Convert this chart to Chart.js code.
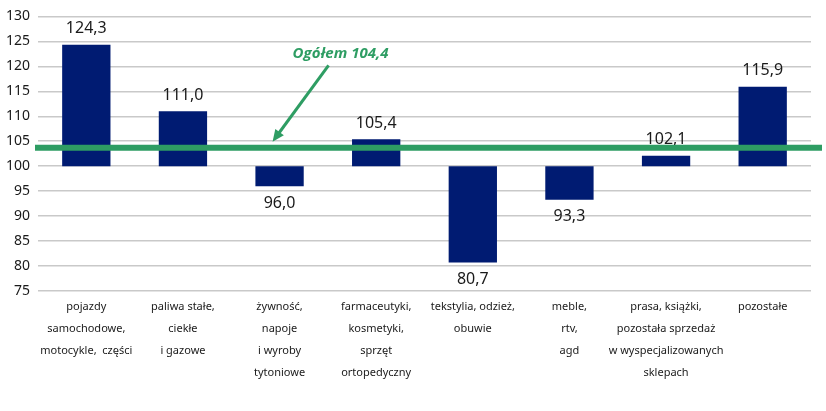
<!DOCTYPE html>
<html>
<head>
<meta charset="utf-8">
<script src="https://cdn.jsdelivr.net/npm/chart.js@4"></script>
<style>
  html, body { margin: 0; padding: 0; background: #fff; }
  #wrap { width: 826px; height: 411px; }
</style>
</head>
<body>
<div id="wrap"><canvas id="chart" width="826" height="411"></canvas></div>
<script>
'use strict';

// kategorie (etykiety osi X, podzielone na linie)
const categories = [
  ['pojazdy', 'samochodowe,', 'motocykle,  części'],
  ['paliwa stałe,', 'ciekłe', 'i gazowe'],
  ['żywność,', 'napoje', 'i wyroby', 'tytoniowe'],
  ['farmaceutyki,', 'kosmetyki,', 'sprzęt', 'ortopedyczny'],
  ['tekstylia, odzież,', 'obuwie'],
  ['meble,', 'rtv,', 'agd'],
  ['prasa, książki,', 'pozostała sprzedaż', 'w wyspecjalizowanych', 'sklepach'],
  ['pozostałe']
];
const values = [124.3, 111.0, 96.0, 105.4, 80.7, 93.3, 102.1, 115.9]; // wartości słupków
const baseValue = 100;          // słupki startują od 100
const overallValue = 104.4;     // ogółem
const overallLineLevel = 103.7; // gdzie leży zielona linia na obrazku
const overallText = 'Ogółem 104,4';
const yMin = 75, yMax = 130, yStep = 5;

const NAVY = '#001b72';
const GREEN = '#2e9d63';

const fmt = v => v.toFixed(1).replace('.', ',');

// etykiety wartości nad / pod słupkami
const valueLabels = {
  id: 'valueLabels',
  afterDatasetsDraw(chart) {
    const ctx = chart.ctx;
    const meta = chart.getDatasetMeta(0);
    const y = chart.scales.y;
    ctx.save();
    ctx.font = '16px "Noto Sans"';
    ctx.fillStyle = '#1a1a1a';
    ctx.textAlign = 'center';
    meta.data.forEach((bar, i) => {
      const v = values[i];
      const py = y.getPixelForValue(v);
      if (v >= baseValue) {
        ctx.textBaseline = 'bottom';
        ctx.fillText(fmt(v), bar.x, py - 8);
      } else {
        ctx.textBaseline = 'top';
        ctx.fillText(fmt(v), bar.x, py + 9);
      }
    });
    ctx.restore();
  }
};

// zielona linia "ogółem" + strzałka z podpisem
const overallLine = {
  id: 'overallLine',
  afterDatasetsDraw(chart) {
    const ctx = chart.ctx;
    const area = chart.chartArea;
    const y = chart.scales.y.getPixelForValue(overallLineLevel);
    const x = chart.scales.x;
    ctx.save();
    ctx.strokeStyle = GREEN;
    ctx.lineWidth = 6;
    ctx.beginPath();
    ctx.moveTo(area.left - 3, y);
    ctx.lineTo(chart.width - 4, y);
    ctx.stroke();

    // strzałka
    const tipX = x.getPixelForValue(2) - 7;
    const tipY = y - 6;
    const startX = tipX + 56;
    const startY = area.top + 49;
    const ang = Math.atan2(tipY - startY, tipX - startX);
    const head = 13;
    ctx.lineWidth = 3;
    ctx.beginPath();
    ctx.moveTo(startX, startY);
    ctx.lineTo(tipX - Math.cos(ang) * 8, tipY - Math.sin(ang) * 8);
    ctx.stroke();
    ctx.fillStyle = GREEN;
    ctx.beginPath();
    ctx.moveTo(tipX, tipY);
    ctx.lineTo(tipX - head * Math.cos(ang - 0.42), tipY - head * Math.sin(ang - 0.42));
    ctx.lineTo(tipX - head * Math.cos(ang + 0.42), tipY - head * Math.sin(ang + 0.42));
    ctx.closePath();
    ctx.fill();

    // podpis
    ctx.font = 'italic bold 15px "Open Sans"';
    ctx.textAlign = 'center';
    ctx.textBaseline = 'middle';
    ctx.fillText(overallText, startX + 12, area.top + 37);
    ctx.restore();
  }
};

new Chart(document.getElementById('chart'), {
  type: 'bar',
  data: {
    labels: categories,
    datasets: [{
      data: values.map(v => [baseValue, v]),
      backgroundColor: NAVY,
      borderWidth: 0,
      categoryPercentage: 1,
      barPercentage: 0.5
    }]
  },
  options: {
    responsive: false,
    animation: false,
    layout: { padding: { left: 0, right: 15, top: 16, bottom: 0 } },
    plugins: {
      legend: { display: false },
      tooltip: { enabled: false }
    },
    scales: {
      x: {
        grid: { display: false, drawTicks: false },
        border: { display: false },
        ticks: {
          autoSkip: false,
          maxRotation: 0,
          padding: 5,
          color: '#1a1a1a',
          font: { family: 'Noto Sans', size: 11, lineHeight: 2 }
        },
        afterFit(scale) { scale.height = 120; }
      },
      y: {
        min: yMin,
        max: yMax,
        grid: { color: '#c9c9c9', lineWidth: 1.5, drawTicks: false },
        border: { display: false },
        ticks: {
          stepSize: yStep,
          padding: 8,
          color: '#1a1a1a',
          font: { family: 'Noto Sans', size: 14 }
        },
        afterFit(scale) { scale.width = 38; }
      }
    }
  },
  plugins: [valueLabels, overallLine]
});
</script>
</body>
</html>
